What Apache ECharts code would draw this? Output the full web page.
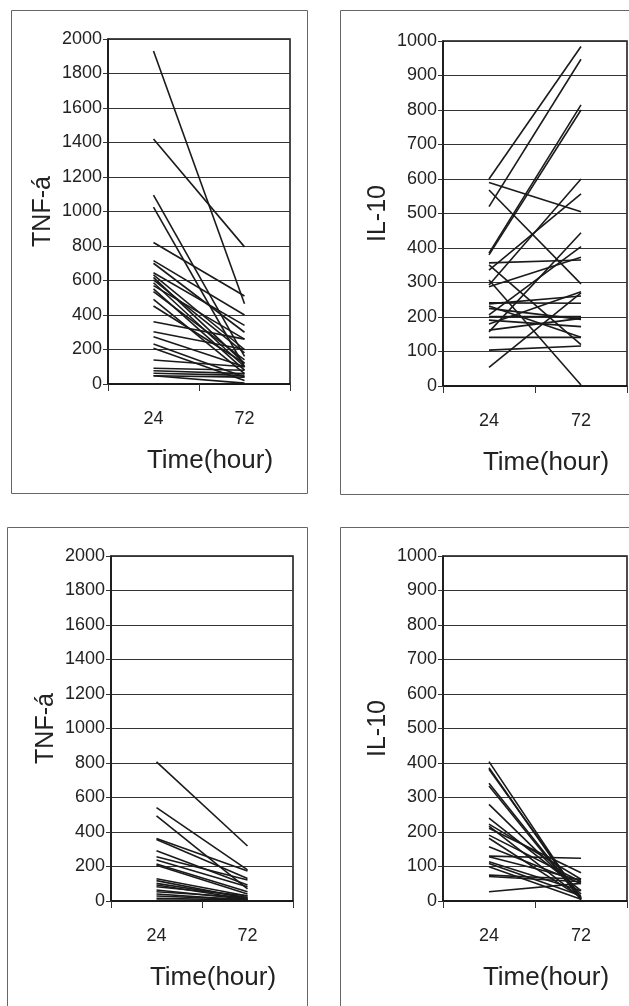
<!DOCTYPE html>
<html>
<head>
<meta charset="utf-8">
<script src="https://cdn.jsdelivr.net/npm/echarts@6/dist/echarts.min.js"></script>
<style>
  html, body { margin: 0; padding: 0; background: #fff; }
  #chart-wrap { width: 629px; height: 1006px; }
</style>
</head>
<body>
<div id="chart-wrap"></div>
<script>
;(function(){
  var hours = ['24', '72'];

  // top row: TNF-á and IL-10, one line per subject
  var topTnf24 = [1930, 1420, 1095, 1025, 820, 715, 700, 645, 632, 618, 603, 587, 570, 551, 535, 491, 452, 361, 303, 274, 232, 207, 139, 91, 77, 62, 48, 48];
  var topTnf72 = [465, 795, 160, 100, 510, 400, 300, 340, 200, 120, 180, 100, 260, 80, 140, 60, 120, 260, 200, 100, 40, 20, 100, 80, 60, 50, 40, 5];
  var topIl24 = [600, 590, 568, 520, 385, 380, 357, 351, 336, 307, 293, 288, 241, 238, 232, 225, 206, 201, 191, 180, 162, 157, 141, 104, 54];
  var topIl72 = [984, 505, 296, 947, 815, 800, 365, 120, 557, 3, 600, 373, 240, 261, 141, 193, 404, 201, 172, 273, 196, 444, 141, 116, 270];

  // bottom row
  var botTnf24 = [807, 541, 493, 363, 357, 292, 257, 238, 214, 207, 129, 118, 102, 93, 83, 64, 54, 41, 29, 16, 6];
  var botTnf72 = [319, 180, 70, 174, 131, 93, 122, 83, 54, 41, 29, 16, 20, 10, 30, 10, 20, 5, 8, 5, 3];
  var botIl24 = [404, 386, 382, 341, 333, 280, 240, 223, 217, 211, 191, 182, 157, 130, 128, 114, 109, 99, 75, 71, 27];
  var botIl72 = [5, 3, 10, 8, 5, 20, 30, 63, 10, 82, 56, 10, 51, 124, 60, 30, 15, 5, 63, 56, 51];

  var font = 'Liberation Sans, Arial, sans-serif';

  function xAx(idx){
    return {
      type: 'category', gridIndex: idx, data: hours, boundaryGap: true,
      name: 'Time(hour)', nameLocation: 'middle', nameGap: 64,
      nameTextStyle: { fontFamily: font, fontSize: 26, color: '#222', padding: [0, 0, 0, 22] },
      axisLine: { lineStyle: { color: '#111', width: 1.5 } },
      axisTick: { show: true, length: 7, alignWithLabel: false, lineStyle: { color: '#333' } },
      axisLabel: { margin: 26, fontFamily: font, fontSize: 18, color: '#222' },
      splitLine: { show: false }
    };
  }
  function yAx(idx, name, max, step){
    return {
      type: 'value', gridIndex: idx, min: 0, max: max, interval: step,
      name: name, nameLocation: 'middle', nameGap: 52,
      nameTextStyle: { fontFamily: font, fontSize: 25, color: '#222' },
      axisLine: { show: true, lineStyle: { color: '#111', width: 1.5 } },
      axisTick: { show: true, length: 5, lineStyle: { color: '#333' } },
      axisLabel: { margin: 6, fontFamily: font, fontSize: 18, color: '#222',
        formatter: function(v){ return String(v); } },
      splitLine: { show: true, lineStyle: { color: '#333', width: 1 } }
    };
  }
  function lines(a, b, idx){
    var out = [];
    for (var i = 0, len = a.length; i < len; i++) {
      out.push({
        type: 'line', xAxisIndex: idx, yAxisIndex: idx,
        data: [a[i], b[i]], symbol: 'none', silent: true,
        lineStyle: { color: '#1a1a1a', width: 1.6 }
      });
    }
    return out;
  }
  function box(x, y, w, h){
    return { type: 'rect', z: -1, shape: { x: x + 0.5, y: y + 0.5, width: w, height: h },
      style: { fill: 'none', stroke: '#666', lineWidth: 1 } };
  }

  var gridStyle = { show: true, borderColor: '#111', borderWidth: 1.5, backgroundColor: 'transparent' };
  var option = {
    animation: false,
    backgroundColor: '#fff',
    graphic: [box(11, 10, 296, 483), box(340, 10, 300, 484), box(7, 527, 300, 500), box(340, 527, 300, 500)],
    grid: [
      Object.assign({ left: 108, top: 39, width: 182, height: 345 }, gridStyle),
      Object.assign({ left: 443, top: 41, width: 184, height: 345 }, gridStyle),
      Object.assign({ left: 111, top: 556, width: 182, height: 345 }, gridStyle),
      Object.assign({ left: 443, top: 556, width: 184, height: 345 }, gridStyle)
    ],
    xAxis: [xAx(0), xAx(1), xAx(2), xAx(3)],
    yAxis: [yAx(0, 'TNF-á', 2000, 200), yAx(1, 'IL-10', 1000, 100), yAx(2, 'TNF-á', 2000, 200), yAx(3, 'IL-10', 1000, 100)],
    series: [].concat(
      lines(topTnf24, topTnf72, 0),
      lines(topIl24, topIl72, 1),
      lines(botTnf24, botTnf72, 2),
      lines(botIl24, botIl72, 3)
    )
  };

  var myChart = echarts.init(document.getElementById('chart-wrap'));
  myChart.setOption(option);
})();
</script>
</body>
</html>
